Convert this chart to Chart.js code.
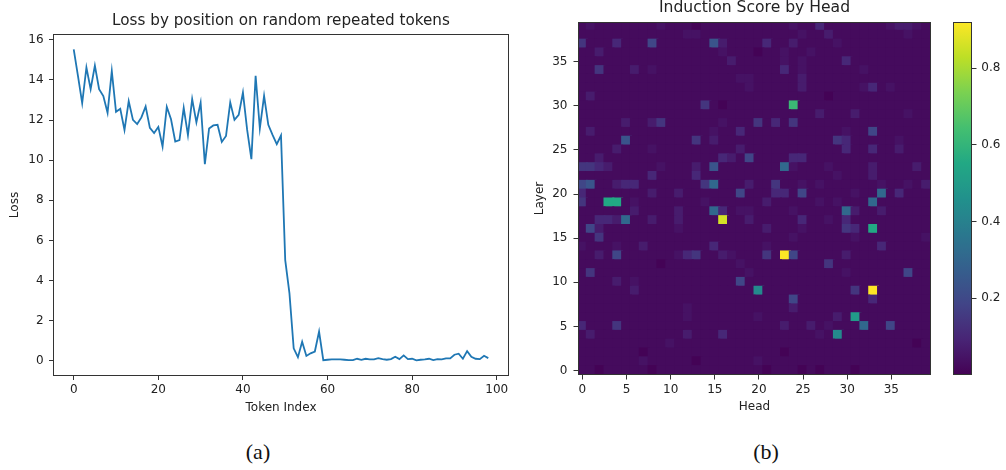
<!DOCTYPE html>
<html>
<head>
<meta charset="utf-8">
<script src="https://cdn.jsdelivr.net/npm/chart.js@4.4.1/dist/chart.umd.min.js"></script>
<style>
  body { margin: 0; background: #fff; width: 1006px; height: 470px; overflow: hidden; position: relative; }
  canvas { position: absolute; top: 0; }
  .cap { position: absolute; font-family: "Liberation Serif", serif; font-size: 22px; color: #111; transform: translate(-50%, -50%); }
</style>
</head>
<body>
<canvas id="loss" width="520" height="430" style="left:0"></canvas>
<canvas id="heat" width="420" height="430" style="left:520px"></canvas>
<canvas id="cbar" width="66" height="430" style="left:940px"></canvas>
<div class="cap" style="left:258px;top:452px">(a)</div>
<div class="cap" style="left:766px;top:452px">(b)</div>
<script>
// ── Data: loss per token position ──
const lossValues = [
  15.52, 14.2, 12.84, 14.62, 13.54, 14.71, 13.54, 13.2, 12.36, 14.44,
  12.41, 12.56, 11.51, 12.94, 12.01, 11.8, 12.13, 12.68, 11.61, 11.35,
  11.66, 10.68, 12.66, 12.04, 10.93, 11.0, 12.61, 11.25, 13.04, 11.88,
  12.87, 9.8, 11.58, 11.73, 11.76, 10.91, 11.21, 12.88, 12.01, 12.26,
  13.37, 11.51, 10.05, 14.21, 11.58, 13.21, 11.76, 11.26, 10.8, 11.23,
  5.02, 3.36, 0.62, 0.18, 0.95, 0.24, 0.37, 0.46, 1.45, 0.03,
  0.05, 0.07, 0.07, 0.07, 0.05, 0.03, 0.03, 0.1, 0.05, 0.1,
  0.07, 0.07, 0.13, 0.08, 0.05, 0.08, 0.2, 0.08, 0.27, 0.08,
  0.1, 0.02, 0.05, 0.07, 0.1, 0.03, 0.08, 0.07, 0.12, 0.12,
  0.3, 0.35, 0.1, 0.48, 0.2, 0.1, 0.08, 0.25, 0.13
];
const lossTicksX = [0, 20, 40, 60, 80, 100];
const lossTicksY = [0, 2, 4, 6, 8, 10, 12, 14, 16];

// ── Data: induction score, one string per layer (39 at top), one code per head ──
// heads grouped by ten: 0-9 10-19 20-29 30-39
const scoreLevels = {
  "0": 0.005, "1": 0.025, "2": 0.045, "3": 0.07, "4": 0.10, "5": 0.14, "6": 0.19,
  "7": 0.24, "8": 0.31, "9": 0.43, "A": 0.50, "B": 0.55, "C": 0.62, "Y": 0.86, "Z": 0.92
};
const layerRows = [
  "1211111112 1110111111 1111211411 1111123321", // 39
  "1111111111 1122111111 1111121131 1111111211", // 38
  "5111411161 1111173111 1411311112 1111111111", // 37
  "1131111111 1111112111 0112112111 1111111111", // 36
  "1111111111 1111111311 1112121111 4111111111", // 35
  "1151113121 1111111111 1114121111 1121111111", // 34
  "1111111111 1111111122 1111131111 1111111111", // 33
  "1111111111 1111111112 1111131111 1124121111", // 32
  "1311111111 1111111111 1111111101 1111111111", // 31
  "1111111111 1111510111 1111C11111 1111111111", // 30
  "1111111111 1111111111 1111111311 1311111211", // 29
  "1111131135 1111112111 5141511111 1111111111", // 28
  "1311111111 1111121141 1111111111 2116111111", // 27
  "1111171111 1115131111 1111111115 4111112111", // 26
  "1111311121 1111111131 1111111111 4114113111", // 25
  "1131111111 1111114316 1111441111 1111111111", // 24
  "5543111112 1113171111 1118211121 1113111131", // 23
  "1111111141 1114111111 1111111112 1113111111", // 22
  "6711344111 1111581113 1151121211 1111211213", // 21
  "4111111131 1311111161 1144161111 1211814111", // 20
  "511BB12111 1111211111 1311111212 1118111111", // 19
  "1111113111 1311184122 1111211111 8311311111", // 18
  "1144381131 131111Y113 1111141121 4111111111", // 17
  "1631111111 1211111111 1311121111 541B111111", // 16
  "1151111111 1111111111 1111211111 1211111112", // 15
  "2111211311 1111141111 1211111111 1111411111", // 14
  "1131611111 1245113211 151Z611111 3111111111", // 13
  "1111111110 1111111121 1111111151 1111111111", // 12
  "1511111111 1111111112 1111111111 2111111611", // 11
  "1111312111 1111111161 1111111111 1111111111", // 10
  "1111113111 1111111111 9111111111 151Z111111", // 9
  "1111111111 1111111111 1111611111 1114111111", // 8
  "1111111111 1121111111 1111311111 1111111111", // 7
  "1111111111 1121111111 2111111113 1A11111111", // 6
  "4111511111 1111111111 1113113121 1181161111", // 5
  "1311111111 1131114111 1111111219 1111111111", // 4
  "1111111111 2111111111 1111111111 1111111101", // 3
  "1111111011 1111111111 1110111111 1111111111", // 2
  "1111111211 1110111111 2111111111 1111111111", // 1
  "1101111101 1111111111 1011101011 1011111111"  // 0
];
const headTicks  = [0, 5, 10, 15, 20, 25, 30, 35];
const layerTicks = [0, 5, 10, 15, 20, 25, 30, 35];
const scoreTicks = [0.2, 0.4, 0.6, 0.8];
const scoreMin = 0, scoreMax = 0.92;

// ── Style helpers ──
const FONT = "DejaVu Sans";
const INK  = "#222";
const viridisStops = ["#440154", "#482475", "#414487", "#355f8d", "#2a788e", "#21918c",
                      "#22a884", "#44bf70", "#7ad151", "#bddf26", "#fde725"];

function hexRgb(h) {
  return [parseInt(h.slice(1, 3), 16), parseInt(h.slice(3, 5), 16), parseInt(h.slice(5, 7), 16)];
}
function viridis(t) {
  t = Math.max(0, Math.min(1, t));
  const p = t * (viridisStops.length - 1);
  const i = Math.min(Math.floor(p), viridisStops.length - 2);
  const f = p - i;
  const a = hexRgb(viridisStops[i]), b = hexRgb(viridisStops[i + 1]);
  const c = a.map((v, k) => Math.round(v + (b[k] - v) * f));
  return `rgb(${c[0]},${c[1]},${c[2]})`;
}

// box round the plot area, like the matplotlib spines
const framePlugin = {
  id: "frame",
  afterDraw(chart) {
    const { ctx, chartArea: a } = chart;
    ctx.save();
    ctx.strokeStyle = "#333";
    ctx.lineWidth = 1;
    ctx.strokeRect(a.left + 0.5, a.top + 0.5, a.right - a.left - 1, a.bottom - a.top - 1);
    ctx.restore();
  }
};

const tickFont = { family: FONT, size: 12 };
const labelFont = { family: FONT, size: 12, lineHeight: 1.2 };
const fixedTicks = list => axis => { axis.ticks = list.map(v => ({ value: v })); };

// ── Loss chart ──
new Chart(document.getElementById("loss"), {
  type: "line",
  data: {
    datasets: [{
      data: lossValues.map((v, i) => ({ x: i, y: v })),
      borderColor: "#1f77b4",
      borderWidth: 1.8,
      pointRadius: 0,
      tension: 0,
    }],
  },
  options: {
    responsive: false, animation: false,
    layout: { padding: { left: 0, right: 11, top: 0, bottom: 0 } },
    plugins: {
      legend: { display: false }, tooltip: { enabled: false },
      title: {
        display: true, fullSize: false, text: "Loss by position on random repeated tokens",
        color: INK, font: { family: FONT, size: 15.2, weight: "normal", lineHeight: 1.25 },
        padding: { top: 12, bottom: 3 },
      },
    },
    scales: {
      x: {
        type: "linear", min: -4.9, max: 102.9,
        afterBuildTicks: fixedTicks(lossTicksX),
        afterFit: ax => { ax.height = 54; },
        grid: { drawOnChartArea: false, tickLength: 4, color: "#333" },
        border: { display: false },
        ticks: { padding: 3, color: INK, font: tickFont },
        title: { display: true, text: "Token Index", color: INK, font: labelFont, padding: { top: 0, bottom: 14.8 } },
      },
      y: {
        min: -0.76, max: 16.29,
        afterBuildTicks: fixedTicks(lossTicksY),
        afterFit: ax => { ax.width = 53; },
        grid: { drawOnChartArea: false, tickLength: 4, color: "#333" },
        border: { display: false },
        ticks: { padding: 5.4, color: INK, font: tickFont },
        title: { display: true, text: "Loss", color: INK, font: labelFont, padding: { top: 7.8, bottom: 0 } },
      },
    },
  },
  plugins: [framePlugin],
});

// ── Heatmap ──
const cells = [], cellColors = [];
layerRows.forEach((line, r) => {
  const row = line.replace(/ /g, "");
  const layer = layerRows.length - 1 - r;
  for (let h = 0; h < row.length; h++) {
    const v = scoreLevels[row[h]];
    cells.push({ x: h, y: [layer - 0.5, layer + 0.5] });
    cellColors.push(viridis((v - scoreMin) / (scoreMax - scoreMin)));
  }
});

new Chart(document.getElementById("heat"), {
  type: "bar",
  data: {
    datasets: [{
      data: cells,
      backgroundColor: cellColors,
      borderWidth: 0,
      inflateAmount: 1,
      barPercentage: 1,
      categoryPercentage: 1,
    }],
  },
  options: {
    responsive: false, animation: false,
    layout: { padding: { left: 0, right: 9, top: 0, bottom: 0 } },
    plugins: {
      legend: { display: false }, tooltip: { enabled: false },
      title: {
        display: true, fullSize: false, text: "Induction Score by Head",
        color: INK, font: { family: FONT, size: 15.6, weight: "normal", lineHeight: 1 },
        padding: { top: 0, bottom: 6.4 },
      },
    },
    scales: {
      x: {
        type: "linear", min: -0.5, max: 39.5, offset: false,
        afterBuildTicks: fixedTicks(headTicks),
        afterFit: ax => { ax.height = 55; },
        grid: { offset: false, drawOnChartArea: false, tickLength: 4.5, color: "#333" },
        border: { display: false },
        ticks: { padding: 3, color: INK, font: tickFont },
        title: { display: true, text: "Head", color: INK, font: labelFont, padding: { top: 0, bottom: 15.5 } },
      },
      y: {
        type: "linear", min: -0.5, max: 39.5,
        afterBuildTicks: fixedTicks(layerTicks),
        afterFit: ax => { ax.width = 58; },
        grid: { drawOnChartArea: false, tickLength: 4.5, color: "#333" },
        border: { display: false },
        ticks: { padding: 6, color: INK, font: tickFont },
        title: { display: true, text: "Layer", color: INK, font: labelFont, padding: { top: 12.8, bottom: 0 } },
      },
    },
  },
  plugins: [framePlugin],
});

// ── Colour bar ──
const gradientPlugin = {
  id: "gradient",
  beforeDatasetsDraw(chart) {
    const { ctx, chartArea: a } = chart;
    const g = ctx.createLinearGradient(0, a.bottom, 0, a.top);
    for (let i = 0; i <= 20; i++) g.addColorStop(i / 20, viridis(i / 20));
    ctx.save();
    ctx.fillStyle = g;
    ctx.fillRect(a.left, a.top, a.right - a.left, a.bottom - a.top);
    ctx.restore();
  }
};

new Chart(document.getElementById("cbar"), {
  type: "bar",
  data: { labels: [""], datasets: [] },
  options: {
    responsive: false, animation: false,
    layout: { padding: { left: 13, right: 0, top: 22, bottom: 55 } },
    plugins: { legend: { display: false }, tooltip: { enabled: false } },
    scales: {
      x: { display: false },
      y: {
        position: "right", min: scoreMin, max: scoreMax,
        afterBuildTicks: fixedTicks(scoreTicks),
        afterFit: ax => { ax.width = 34; },
        grid: { drawOnChartArea: false, tickLength: 4.5, color: "#333" },
        border: { display: false },
        ticks: { padding: 4.8, color: INK, font: tickFont, callback: v => v.toFixed(1) },
      },
    },
  },
  plugins: [gradientPlugin, framePlugin],
});
</script>
</body>
</html>
